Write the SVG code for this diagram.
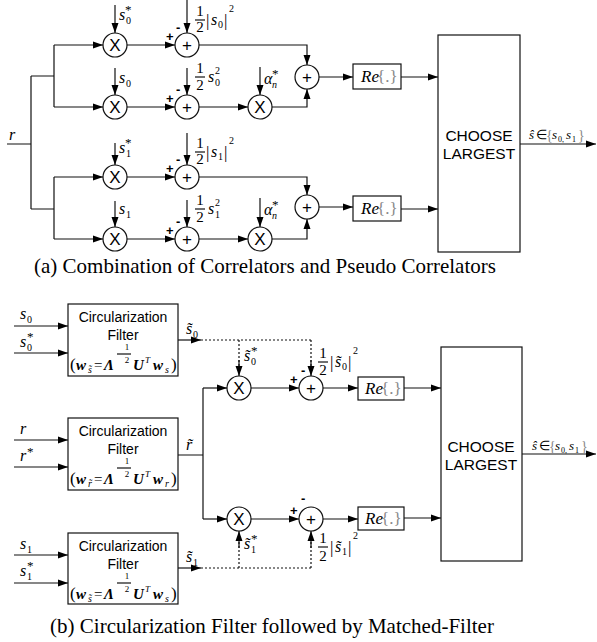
<svg xmlns="http://www.w3.org/2000/svg" width="597" height="642" viewBox="0 0 597 642">
<defs>
<marker id="ah" markerUnits="userSpaceOnUse" markerWidth="11" markerHeight="8" refX="10" refY="4" orient="auto">
<path d="M0,0.5 L10,4 L0,7.5 z" fill="#000"/>
</marker>
</defs>
<style>
.ln{stroke:#111;stroke-width:1.2;fill:none}
.ar{stroke:#111;stroke-width:1.2;fill:none;marker-end:url(#ah)}
.dt{stroke:#111;stroke-width:1.2;fill:none;stroke-dasharray:2,2}
.cir{stroke:#111;stroke-width:1.2;fill:#fff}
.box{stroke:#111;stroke-width:1.2;fill:#fff}
.op{font-family:"Liberation Sans",Arial,sans-serif;font-size:17px;text-anchor:middle;fill:#000}
.sg{font-family:"Liberation Sans",Arial,sans-serif;font-size:13px;font-weight:bold;fill:#000}
.lbl{font-family:"Liberation Sans",Arial,sans-serif;font-size:14px;text-anchor:middle;fill:#000}
.ch{font-family:"Liberation Sans",Arial,sans-serif;font-size:15.5px;text-anchor:middle;fill:#000}
.t{font-family:"Liberation Serif","Times New Roman",serif;font-size:15px;fill:#000}
.c{text-anchor:middle}
.i{font-style:italic;font-size:16px}
.ib{font-style:italic;font-weight:bold;font-size:15px}
.sb{font-size:10px}
.sbi{font-size:10px;font-style:italic}
.st{font-size:13px}
.br{font-size:17px}
.g{fill:#888;font-size:17px}
.sm{font-size:13px}
.cap{font-family:"Liberation Serif","Times New Roman",serif;font-size:21px;text-anchor:middle;fill:#000}
</style>

<!-- ================= connectors ================= -->
<g id="connectors">
<path class="ln" d="M7,144 H31 M31,76 V209 M31,76 H54 M54,45 V107 M31,209 H54 M54,177 V239"/>
<path class="ar" d="M54,45 H103"/>
<path class="ar" d="M54,107 H103"/>
<path class="ar" d="M54,177 H103"/>
<path class="ar" d="M54,239 H103"/>
<path class="ar" d="M127,45 H175"/>
<path class="ar" d="M127,107 H175"/>
<path class="ar" d="M127,177 H175"/>
<path class="ar" d="M127,239 H175"/>
<path class="ar" d="M115,5 V33"/>
<path class="ar" d="M115,68 V95"/>
<path class="ar" d="M115,143 V165"/>
<path class="ar" d="M115,201 V227"/>
<path class="ar" d="M187,0 V33"/>
<path class="ar" d="M187,68 V95"/>
<path class="ar" d="M187,133 V165"/>
<path class="ar" d="M187,200 V227"/>
<path class="ar" d="M199,45 H307 V65"/>
<path class="ar" d="M199,107 H248"/>
<path class="ar" d="M260,67 V95"/>
<path class="ar" d="M272,107 H307 V89"/>
<path class="ar" d="M319,77 H353"/>
<path class="ar" d="M401,77 H438"/>
<path class="ar" d="M199,177 H307 V195"/>
<path class="ar" d="M199,239 H248"/>
<path class="ar" d="M260,198 V227"/>
<path class="ar" d="M272,239 H307 V219"/>
<path class="ar" d="M319,207 H353"/>
<path class="ar" d="M401,209 H438"/>
<path class="ar" d="M520,144 H596"/>
<path class="ar" d="M14,326 H68"/>
<path class="ar" d="M14,353 H68"/>
<path class="ar" d="M14,440 H68"/>
<path class="ar" d="M14,467 H68"/>
<path class="ar" d="M14,555 H68"/>
<path class="ar" d="M14,583 H68"/>
<path class="ar" d="M178,340 H201"/>
<path class="dt" d="M201,340 H311"/>
<path class="dt" d="M239,340 V366"/>
<path class="ar" d="M239,360 V376"/>
<path class="dt" d="M311,340 V366"/>
<path class="ar" d="M311,360 V376"/>
<path class="ln" d="M178,455 H203 M203,388 V519"/>
<path class="ar" d="M203,388 H227"/>
<path class="ar" d="M203,519 H227"/>
<path class="ar" d="M251,388 H299"/>
<path class="ar" d="M251,519 H299"/>
<path class="ar" d="M323,388 H358"/>
<path class="ar" d="M323,519 H358"/>
<path class="ar" d="M404,388 H441"/>
<path class="ar" d="M404,518 H441"/>
<path class="ar" d="M178,568 H201"/>
<path class="dt" d="M201,568 H311"/>
<path class="dt" d="M239,568 V542"/>
<path class="ar" d="M239,548 V531"/>
<path class="dt" d="M311,568 V542"/>
<path class="ar" d="M311,548 V531"/>
<path class="ar" d="M522,454 H596"/>
</g>

<!-- ================= (a) nodes ================= -->
<g id="mulA1"><circle class="cir" cx="115" cy="45" r="12"/><text class="op" x="115" y="51">X</text></g>
<g id="mulA2"><circle class="cir" cx="115" cy="107" r="12"/><text class="op" x="115" y="113">X</text></g>
<g id="mulB1"><circle class="cir" cx="115" cy="177" r="12"/><text class="op" x="115" y="183">X</text></g>
<g id="mulB2"><circle class="cir" cx="115" cy="239" r="12"/><text class="op" x="115" y="245">X</text></g>
<g id="addA1"><circle class="cir" cx="187" cy="45" r="12"/><text class="op" x="187" y="51">+</text></g>
<g id="addA2"><circle class="cir" cx="187" cy="107" r="12"/><text class="op" x="187" y="113">+</text></g>
<g id="addB1"><circle class="cir" cx="187" cy="177" r="12"/><text class="op" x="187" y="183">+</text></g>
<g id="addB2"><circle class="cir" cx="187" cy="239" r="12"/><text class="op" x="187" y="245">+</text></g>
<g id="alphaA"><circle class="cir" cx="260" cy="107" r="12"/><text class="op" x="260" y="113">X</text></g>
<g id="alphaB"><circle class="cir" cx="260" cy="239" r="12"/><text class="op" x="260" y="245">X</text></g>
<g id="sumA"><circle class="cir" cx="307" cy="77" r="12"/><text class="op" x="307" y="83">+</text></g>
<g id="sumB"><circle class="cir" cx="307" cy="207" r="12"/><text class="op" x="307" y="213">+</text></g>
<g id="reA"><rect class="box" x="353" y="64" width="48" height="25"/><text class="t" x="361" y="82"><tspan class="i" style="font-size:17px">Re</tspan><tspan class="g" x="377">{.}</tspan></text></g>
<g id="reB"><rect class="box" x="353" y="196" width="48" height="25"/><text class="t" x="361" y="214"><tspan class="i" style="font-size:17px">Re</tspan><tspan class="g" x="377">{.}</tspan></text></g>
<g id="chooseA"><rect class="box" x="438" y="35" width="82" height="217"/><text class="ch" x="479" y="141">CHOOSE</text><text class="ch" x="479" y="159">LARGEST</text></g>

<!-- (a) labels -->
<g id="labelsA">
<text class="t" x="9" y="140"><tspan class="i">r</tspan></text>
<text class="sg" x="166" y="41">+</text><text class="sg" x="176" y="32">-</text>
<text class="sg" x="166" y="103">+</text><text class="sg" x="176" y="94">-</text>
<text class="sg" x="166" y="173">+</text><text class="sg" x="176" y="164">-</text>
<text class="sg" x="166" y="235">+</text><text class="sg" x="176" y="226">-</text>
<text class="t" x="119" y="20"><tspan class="i">s</tspan><tspan class="sb" x="126" y="24">0</tspan><tspan class="st" x="125" y="14">*</tspan></text>
<text class="t" x="119" y="83"><tspan class="i">s</tspan><tspan class="sb" x="126" y="87">0</tspan></text>
<text class="t" x="119" y="153"><tspan class="i">s</tspan><tspan class="sb" x="126" y="157">1</tspan><tspan class="st" x="125" y="147">*</tspan></text>
<text class="t" x="119" y="214"><tspan class="i">s</tspan><tspan class="sb" x="126" y="218">1</tspan></text>
<text class="t" x="264" y="84"><tspan class="i">α</tspan><tspan class="sbi" x="272" y="88">n</tspan><tspan class="st" x="272" y="78">*</tspan></text>
<text class="t" x="264" y="215"><tspan class="i">α</tspan><tspan class="sbi" x="272" y="219">n</tspan><tspan class="st" x="272" y="209">*</tspan></text>
<!-- fractions -->
<text class="t c" x="200" y="16">1</text><path class="ln" d="M195,20 H205"/><text class="t c" x="200" y="32">2</text>
<text class="t" x="206" y="26"><tspan class="br">|</tspan><tspan class="i" x="211" y="25">s</tspan><tspan class="sb" x="218" y="28">0</tspan><tspan class="br" x="224" y="26">|</tspan><tspan class="sb" x="229" y="12">2</tspan></text>
<text class="t c" x="200" y="73">1</text><path class="ln" d="M195,77 H205"/><text class="t c" x="200" y="90">2</text>
<text class="t" x="208" y="82"><tspan class="i">s</tspan><tspan class="sb" x="215" y="86">0</tspan><tspan class="sb" x="215" y="74">2</tspan></text>
<text class="t c" x="200" y="148">1</text><path class="ln" d="M195,152 H205"/><text class="t c" x="200" y="164">2</text>
<text class="t" x="206" y="158"><tspan class="br">|</tspan><tspan class="i" x="211" y="157">s</tspan><tspan class="sb" x="218" y="160">1</tspan><tspan class="br" x="224" y="158">|</tspan><tspan class="sb" x="229" y="144">2</tspan></text>
<text class="t c" x="200" y="205">1</text><path class="ln" d="M195,209 H205"/><text class="t c" x="200" y="222">2</text>
<text class="t" x="208" y="214"><tspan class="i">s</tspan><tspan class="sb" x="215" y="218">1</tspan><tspan class="sb" x="215" y="206">2</tspan></text>
<!-- output -->
<text class="t" x="529" y="139"><tspan class="i" style="font-size:13px">ŝ</tspan><tspan class="sm" x="536">∈</tspan><tspan class="g" x="546" y="140" style="font-size:14px">{</tspan><tspan class="i" x="552" y="139" style="font-size:13px">s</tspan><tspan class="sb" x="558" y="142" style="font-size:8px">0,</tspan><tspan class="i" x="566" y="139" style="font-size:13px">s</tspan><tspan class="sb" x="572" y="142" style="font-size:8px">1</tspan><tspan class="g" x="578" y="140" style="font-size:14px">}</tspan></text>
</g>

<text class="cap" x="265" y="273">(a) Combination of Correlators and Pseudo Correlators</text>

<!-- ================= (b) nodes ================= -->
<g id="filterS0">
<rect class="box" x="68" y="304" width="110" height="72"/>
<text class="lbl" x="123" y="322">Circularization</text>
<text class="lbl" x="123" y="340">Filter</text>
<text class="t" x="70" y="370"><tspan class="br">(</tspan><tspan class="ib" x="76">w</tspan><tspan class="sbi" x="88" y="373">s̃</tspan><tspan x="94" y="370">=</tspan><tspan class="ib" x="104">Λ</tspan><tspan class="ib" x="133">U</tspan><tspan class="sbi" x="145" y="363" style="font-size:9px">T</tspan><tspan class="ib" x="153" y="370">w</tspan><tspan class="sbi" x="165" y="373">s</tspan><tspan class="br" x="171" y="370">)</tspan></text>
<path class="ln" d="M117,354 H131"/><text class="t c" x="127" y="350" style="font-size:9px">1</text><text class="t c" x="127" y="363" style="font-size:9px">2</text>
</g>
<g id="filterR">
<rect class="box" x="68" y="418" width="110" height="72"/>
<text class="lbl" x="123" y="436">Circularization</text>
<text class="lbl" x="123" y="454">Filter</text>
<text class="t" x="70" y="484"><tspan class="br">(</tspan><tspan class="ib" x="76">w</tspan><tspan class="sbi" x="88" y="487">r̃</tspan><tspan x="94" y="484">=</tspan><tspan class="ib" x="104">Λ</tspan><tspan class="ib" x="133">U</tspan><tspan class="sbi" x="145" y="477" style="font-size:9px">T</tspan><tspan class="ib" x="153" y="484">w</tspan><tspan class="sbi" x="165" y="487">r</tspan><tspan class="br" x="171" y="484">)</tspan></text>
<path class="ln" d="M117,468 H131"/><text class="t c" x="127" y="464" style="font-size:9px">1</text><text class="t c" x="127" y="477" style="font-size:9px">2</text>
</g>
<g id="filterS1">
<rect class="box" x="68" y="533" width="110" height="71"/>
<text class="lbl" x="123" y="551">Circularization</text>
<text class="lbl" x="123" y="569">Filter</text>
<text class="t" x="70" y="599"><tspan class="br">(</tspan><tspan class="ib" x="76">w</tspan><tspan class="sbi" x="88" y="602">s̃</tspan><tspan x="94" y="599">=</tspan><tspan class="ib" x="104">Λ</tspan><tspan class="ib" x="133">U</tspan><tspan class="sbi" x="145" y="592" style="font-size:9px">T</tspan><tspan class="ib" x="153" y="599">w</tspan><tspan class="sbi" x="165" y="602">s</tspan><tspan class="br" x="171" y="599">)</tspan></text>
<path class="ln" d="M117,583 H131"/><text class="t c" x="127" y="579" style="font-size:9px">1</text><text class="t c" x="127" y="592" style="font-size:9px">2</text>
</g>
<g id="mulC1"><circle class="cir" cx="239" cy="388" r="12"/><text class="op" x="239" y="394">X</text></g>
<g id="mulC2"><circle class="cir" cx="239" cy="519" r="12"/><text class="op" x="239" y="525">X</text></g>
<g id="addC1"><circle class="cir" cx="311" cy="388" r="12"/><text class="op" x="311" y="394">+</text></g>
<g id="addC2"><circle class="cir" cx="311" cy="519" r="12"/><text class="op" x="311" y="525">+</text></g>
<g id="reC"><rect class="box" x="358" y="377" width="46" height="23"/><text class="t" x="365" y="394"><tspan class="i" style="font-size:17px">Re</tspan><tspan class="g" x="381">{.}</tspan></text></g>
<g id="reD"><rect class="box" x="358" y="507" width="46" height="23"/><text class="t" x="365" y="524"><tspan class="i" style="font-size:17px">Re</tspan><tspan class="g" x="381">{.}</tspan></text></g>
<g id="chooseB"><rect class="box" x="441" y="347" width="81" height="214"/><text class="ch" x="481" y="452">CHOOSE</text><text class="ch" x="481" y="470">LARGEST</text></g>

<!-- (b) labels -->
<g id="labelsB">
<text class="t" x="20" y="319"><tspan class="i">s</tspan><tspan class="sb" x="27" y="323">0</tspan></text>
<text class="t" x="20" y="347"><tspan class="i">s</tspan><tspan class="sb" x="27" y="351">0</tspan><tspan class="st" x="27" y="341">*</tspan></text>
<text class="t" x="20" y="434"><tspan class="i">r</tspan></text>
<text class="t" x="20" y="461"><tspan class="i">r</tspan><tspan class="st" x="27" y="456">*</tspan></text>
<text class="t" x="20" y="549"><tspan class="i">s</tspan><tspan class="sb" x="27" y="553">1</tspan></text>
<text class="t" x="20" y="576"><tspan class="i">s</tspan><tspan class="sb" x="27" y="580">1</tspan><tspan class="st" x="27" y="570">*</tspan></text>
<text class="t" x="186" y="334"><tspan class="i">s̃</tspan><tspan class="sb" x="193" y="338">0</tspan></text>
<text class="t" x="186" y="450"><tspan class="i">r̃</tspan></text>
<text class="t" x="186" y="562"><tspan class="i">s̃</tspan><tspan class="sb" x="193" y="566">1</tspan></text>
<text class="t" x="244" y="361"><tspan class="i">s̃</tspan><tspan class="sb" x="251" y="365">0</tspan><tspan class="st" x="251" y="355">*</tspan></text>
<text class="t" x="244" y="549"><tspan class="i">s̃</tspan><tspan class="sb" x="251" y="553">1</tspan><tspan class="st" x="251" y="543">*</tspan></text>
<text class="sg" x="290" y="384">+</text><text class="sg" x="301" y="375">-</text>
<text class="sg" x="290" y="515">+</text><text class="sg" x="301" y="503">-</text>
<text class="t c" x="323" y="358">1</text><path class="ln" d="M318,362 H328"/><text class="t c" x="323" y="375">2</text>
<text class="t" x="330" y="368"><tspan class="br">|</tspan><tspan class="i" x="335" y="367">s̃</tspan><tspan class="sb" x="342" y="370">0</tspan><tspan class="br" x="348" y="368">|</tspan><tspan class="sb" x="353" y="354">2</tspan></text>
<text class="t c" x="323" y="543">1</text><path class="ln" d="M318,547 H328"/><text class="t c" x="323" y="561">2</text>
<text class="t" x="330" y="553"><tspan class="br">|</tspan><tspan class="i" x="335" y="552">s̃</tspan><tspan class="sb" x="342" y="555">1</tspan><tspan class="br" x="348" y="553">|</tspan><tspan class="sb" x="353" y="539">2</tspan></text>
<text class="t" x="532" y="450"><tspan class="i" style="font-size:13px">ŝ</tspan><tspan class="sm" x="539">∈</tspan><tspan class="g" x="549" y="451" style="font-size:14px">{</tspan><tspan class="i" x="555" y="450" style="font-size:13px">s</tspan><tspan class="sb" x="561" y="453" style="font-size:8px">0,</tspan><tspan class="i" x="569" y="450" style="font-size:13px">s</tspan><tspan class="sb" x="575" y="453" style="font-size:8px">1</tspan><tspan class="g" x="581" y="451" style="font-size:14px">}</tspan></text>
</g>

<text class="cap" x="272" y="633">(b) Circularization Filter followed by Matched-Filter</text>
</svg>
